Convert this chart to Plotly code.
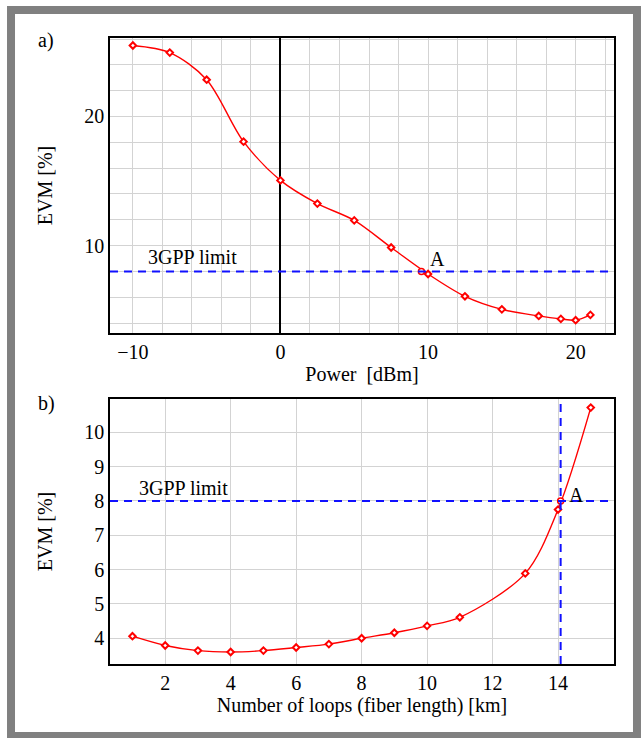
import plotly.graph_objects as go

# ---- data (a): EVM vs optical power ----
power_dbm = [-10, -7.5, -5, -2.5, 0, 2.5, 5, 7.5, 10, 12.5, 15, 17.5, 19, 20, 21]
evm_power = [25.5, 24.95, 22.85, 18.05, 15.05, 13.25, 11.95, 9.85, 7.8, 6.07, 5.06, 4.55, 4.32, 4.22, 4.63]
point_a_power = [9.55]
point_a_power_evm = [8.0]

# ---- data (b): EVM vs number of loops ----
loops = [1, 2, 3, 4, 5, 6, 7, 8, 9, 10, 11, 13, 14, 15]
evm_loops = [4.06, 3.79, 3.64, 3.60, 3.64, 3.73, 3.83, 4.00, 4.16, 4.36, 4.61, 5.89, 7.75, 10.72]
point_a_loops = [14.08]
point_a_loops_evm = [8.0]

LIMIT_3GPP = 8.0

FONT = "Liberation Serif, Times New Roman, serif"
RED = "#ff0000"
BLUE = "#1010ff"
GRID = "#d3d3d3"

fig = go.Figure()

marker_style = dict(symbol="diamond", size=5, color="white", line=dict(color=RED, width=2))
a_style = dict(symbol="circle", size=6, color="white", line=dict(color=RED, width=1.5))

fig.add_trace(go.Scatter(x=power_dbm, y=evm_power, mode="lines+markers",
                         line=dict(color=RED, width=1.4, shape="spline", smoothing=0.9),
                         marker=marker_style, xaxis="x", yaxis="y", showlegend=False))
fig.add_trace(go.Scatter(x=point_a_power, y=point_a_power_evm, mode="markers",
                         marker=a_style, xaxis="x", yaxis="y", showlegend=False))
fig.add_trace(go.Scatter(x=loops, y=evm_loops, mode="lines+markers",
                         line=dict(color=RED, width=1.4, shape="spline", smoothing=0.9),
                         marker=marker_style, xaxis="x2", yaxis="y2", showlegend=False))
fig.add_trace(go.Scatter(x=point_a_loops, y=point_a_loops_evm, mode="markers",
                         marker=a_style, xaxis="x2", yaxis="y2", showlegend=False))

# 3GPP limit lines
fig.add_shape(type="line", xref="x domain", yref="y", x0=0, x1=1, y0=LIMIT_3GPP, y1=LIMIT_3GPP,
              line=dict(color=BLUE, width=2, dash="8px,6px"))
fig.add_shape(type="line", xref="x2 domain", yref="y2", x0=0, x1=1, y0=LIMIT_3GPP, y1=LIMIT_3GPP,
              line=dict(color=BLUE, width=2, dash="8px,6px"))
fig.add_shape(type="line", xref="x2", yref="y2 domain", x0=point_a_loops[0], x1=point_a_loops[0], y0=0, y1=1,
              line=dict(color=BLUE, width=2, dash="8px,6px"))

# outer grey frame
fig.add_shape(type="rect", xref="paper", yref="paper",
              x0=-0.1964, x1=1.0456, y0=-0.1150, y1=1.0447,
              line=dict(color="#808080", width=8), fillcolor="rgba(0,0,0,0)", layer="below")

ann_font = dict(family=FONT, size=20, color="black")
fig.add_annotation(x=-9.1, y=9.09, xref="x", yref="y", text="3GPP limit", showarrow=False,
                   xanchor="left", yanchor="middle", font=ann_font)
fig.add_annotation(x=10.66, y=8.97, xref="x", yref="y", text="A", showarrow=False,
                   xanchor="center", yanchor="middle", font=ann_font)
fig.add_annotation(x=1.14, y=8.38, xref="x2", yref="y2", text="3GPP limit", showarrow=False,
                   xanchor="left", yanchor="middle", font=ann_font)
fig.add_annotation(x=14.55, y=8.18, xref="x2", yref="y2", text="A", showarrow=False,
                   xanchor="center", yanchor="middle", font=ann_font)
fig.add_annotation(x=(36 - 110) / 504, y=(664 - 40) / 626, xref="paper", yref="paper", text="a)",
                   showarrow=False, xanchor="left", yanchor="middle", font=ann_font)
fig.add_annotation(x=(36 - 110) / 504, y=(664 - 404) / 626, xref="paper", yref="paper", text="b)",
                   showarrow=False, xanchor="left", yanchor="middle", font=ann_font)

axis_common = dict(showline=True, linecolor="black", linewidth=1.5, mirror=True,
                   gridcolor=GRID, gridwidth=1, ticks="", zeroline=False,
                   tickfont=dict(family=FONT, size=20, color="black"))

fig.update_layout(
    width=641, height=738,
    margin=dict(l=110, r=27, t=38, b=74),
    paper_bgcolor="white", plot_bgcolor="white",
    font=dict(family=FONT, size=20, color="black"),
    xaxis=dict(domain=[0, 1], anchor="y", range=[-11.55, 22.6], dtick=10, tick0=0,
               minor=dict(dtick=2, tick0=0, showgrid=True, gridcolor=GRID, gridwidth=1),
               zeroline=True, zerolinecolor="black", zerolinewidth=1.5,
               title=dict(text="Power  [dBm]", font=dict(family=FONT, size=20), standoff=1),
               **{k: v for k, v in axis_common.items() if k != "zeroline"}),
    yaxis=dict(domain=[0.5288, 1.0], anchor="x", range=[3.23, 26.08], dtick=10, tick0=0,
               minor=dict(dtick=2, tick0=0, showgrid=True, gridcolor=GRID, gridwidth=1),
               title=dict(text="EVM [%]", font=dict(family=FONT, size=20), standoff=26),
               **axis_common),
    xaxis2=dict(domain=[0, 1], anchor="y2", range=[0.314, 15.71], dtick=2, tick0=0,
                title=dict(text="Number of loops (fiber length) [km]", font=dict(family=FONT, size=20), standoff=3),
                **axis_common),
    yaxis2=dict(domain=[0, 0.4233], anchor="x2", range=[3.25, 10.97], dtick=1, tick0=0,
                title=dict(text="EVM [%]", font=dict(family=FONT, size=20), standoff=26),
                **axis_common),
)

fig.write_html("out.html")
